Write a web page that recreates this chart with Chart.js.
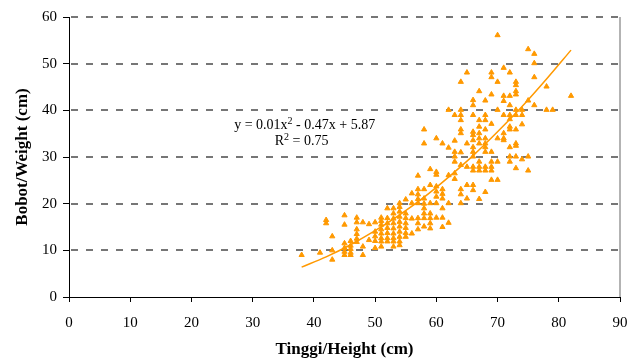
<!DOCTYPE html>
<html>
<head>
<meta charset="utf-8">
<script src="https://cdn.jsdelivr.net/npm/chart.js@4.4.1/dist/chart.umd.min.js"></script>
<style>
html,body{margin:0;padding:0;background:#ffffff;}
canvas{display:block;}
</style>
</head>
<body>
<canvas id="c" width="631" height="360"></canvas>
<script>
// ---- data ----
const heights = [38,41,42,43,45,46,47,48,49,50,51,52,53,54,55,56,57,58,59,60,61,62,63,64,65,66,67,68,69,70,71,72,73,74,75,76,78,79,82];
const weightsByHeight = [
  [9],
  [9.5],
  [16.5,15.8],
  [13,10,8],
  [17.5,15.5,11.5,10.5,9.7,9],
  [12,11,10.3,9.5,9],
  [17,16,14.5,13.5,12.5,11.8],
  [16,10.8,9],
  [15.6,12.2],
  [16,14,13,12,10.5],
  [17,16.3,15.5,14.5,13.6,12.6,11.9,10.8],
  [19,16.9,15.8,14.8,13.7,12.6,11.9],
  [19,17.9,16.8,15.8,14.7,13.6,12.6,11.9,10.8],
  [20.1,19.3,18.3,17.2,16.1,15.1,14,12.9,11.9,11.1],
  [20.9,17.9,16.9,15.8,14.8,13.7,12.9],
  [22.2,20.1,16.8,13.6],
  [26,23.1,22,21,20.1,16.9,15.8,14.5],
  [35.9,32.9,23.1,21.1,20,19,17.9,16.9,15.1],
  [27.4,24,20.1,17.9,16.9,15.8,14.7],
  [34,26.8,26.2,23.7,22.6,21.5,20.1,17],
  [32.9,23.1,22.1,21.1,19,17,15],
  [40.1,32,26.1,20.1,15.9],
  [39,33.5,31.1,30.1,29,26.5,25.3],
  [46.1,40.1,39,37.9,35.9,35.1,31,28.3,23.1,22,20.1],
  [48.1,32.9,27.9,24,21.1],
  [42.2,41.1,39,35.4,34.7,33.6,32.1,31.1,30.1,27.9,27.1,24,22.9],
  [44.1,37.9,36.5,35.1,34,32.9,29,27.9,27.1,21],
  [42.1,39,37.9,35.9,34,32.9,32.1,31.1,27.9,27.1,22.5],
  [48.1,47.1,43.4,37.1,31.1,29,27.9,27.1,25.1],
  [56.1,46.1,40.1,34,29,25.1],
  [49.1,43.1,42,39,35.1,34,33.6],
  [48.1,43.1,41.1,39,38.1,36.5,35.9,32.1,30.1,29],
  [46.1,45.4,44.1,43.4,40.1,39,35.9,32.9,32.4,30.1,27.6],
  [40.1,39,37,29.5],
  [53.1,42.1,30.1,27.1],
  [52.1,50.1,47.1,41.1],
  [45.1,40.1],
  [40.1],
  [43.1]
];
// trend line
const trendHeights = [38,42,46,50,54,58,62,66,70,74,78,82];
const trendWeights = [6.4,8.6,11.2,14.2,17.6,21.4,25.7,30.3,35.4,40.8,46.7,52.9];

const xTicks = [0,10,20,30,40,50,60,70,80,90];
const yTicks = [0,10,20,30,40,50,60];
const xTitle = 'Tinggi/Height (cm)';
const yTitle = 'Bobot/Weight (cm)';
const eqParts = [['y = 0.01x',false],['2',true],[' - 0.47x + 5.87',false]];
const r2Parts = [['R',false],['2',true],[' = 0.75',false]];
const eqAnchor = {x: 38.5, y: 36.1};
const r2Anchor = {x: 38.0, y: 32.5};

// ---- build datasets ----
const scatterPts = [];
heights.forEach((h, i) => weightsByHeight[i].forEach(w => scatterPts.push({x: h, y: w})));
const trendPts = trendHeights.map((h, i) => ({x: h, y: trendWeights[i]}));

const ORANGE = '#FF9900';
const SERIF = '"Liberation Serif", "Times New Roman", serif';

const gridPlugin = {
  id: 'dashedGrid',
  beforeDatasetsDraw(chart) {
    const {ctx, chartArea: a, scales: {y}} = chart;
    ctx.save();
    ctx.strokeStyle = '#4a4a4a';
    ctx.lineWidth = 1.6;
    ctx.setLineDash([7, 8]);
    yTicks.forEach(v => {
      if (v === 0) return;
      const py = Math.round(y.getPixelForValue(v));
      ctx.beginPath();
      ctx.moveTo(a.left + 2, py);
      ctx.lineTo(a.right, py);
      ctx.stroke();
    });
    ctx.setLineDash([]);
    ctx.strokeStyle = '#9a9a9a';
    ctx.lineWidth = 1.5;
    ctx.beginPath();
    ctx.moveTo(a.right, a.top);
    ctx.lineTo(a.right, a.bottom);
    ctx.stroke();
    ctx.restore();
  }
};

function drawParts(ctx, parts, cx, cy) {
  const base = '14px ' + SERIF;
  const sup = '10px ' + SERIF;
  let total = 0;
  parts.forEach(([t, s]) => { ctx.font = s ? sup : base; total += ctx.measureText(t).width; });
  let x = cx - total / 2;
  ctx.textBaseline = 'alphabetic';
  ctx.textAlign = 'left';
  parts.forEach(([t, s]) => {
    ctx.font = s ? sup : base;
    ctx.fillText(t, x, s ? cy - 5 : cy);
    x += ctx.measureText(t).width;
  });
}

const eqPlugin = {
  id: 'equation',
  afterDatasetsDraw(chart) {
    const {ctx, scales: {x, y}} = chart;
    ctx.save();
    ctx.fillStyle = '#000000';
    drawParts(ctx, eqParts, x.getPixelForValue(eqAnchor.x), y.getPixelForValue(eqAnchor.y));
    drawParts(ctx, r2Parts, x.getPixelForValue(r2Anchor.x), y.getPixelForValue(r2Anchor.y));
    ctx.restore();
  }
};

new Chart(document.getElementById('c'), {
  type: 'scatter',
  data: {
    datasets: [
      {
        type: 'line',
        data: trendPts,
        borderColor: ORANGE,
        borderWidth: 1.5,
        pointRadius: 0,
        fill: false,
        cubicInterpolationMode: 'monotone',
        order: 0
      },
      {
        type: 'scatter',
        data: scatterPts,
        pointStyle: 'triangle',
        pointRadius: 3,
        backgroundColor: ORANGE,
        borderColor: ORANGE,
        borderWidth: 1,
        order: 1
      }
    ]
  },
  options: {
    responsive: false,
    animation: false,
    devicePixelRatio: 1,
    layout: {padding: {left: 0, right: 11, top: 17, bottom: 0}},
    plugins: {legend: {display: false}, tooltip: {enabled: false}},
    scales: {
      x: {
        type: 'linear',
        min: 0, max: 90,
        afterBuildTicks(s) { s.ticks = xTicks.map(v => ({value: v})); },
        ticks: {color: '#000', font: {family: SERIF, size: 15}, padding: 12, maxRotation: 0, autoSkip: false},
        grid: {drawOnChartArea: false, drawTicks: true, tickLength: 5, tickColor: '#000', tickWidth: 1},
        border: {display: true, color: '#000', width: 1},
        title: {display: true, text: xTitle, color: '#000', font: {family: SERIF, size: 17, weight: 'bold'}, padding: {top: 0, bottom: 0}},
        afterFit(s) { s.height = 63; s.paddingLeft = 0; s.paddingRight = 0; }
      },
      y: {
        type: 'linear',
        min: 0, max: 60,
        afterBuildTicks(s) { s.ticks = yTicks.map(v => ({value: v})); },
        ticks: {color: '#000', font: {family: SERIF, size: 15}, padding: 6},
        grid: {drawOnChartArea: false, drawTicks: true, tickLength: 6, tickColor: '#000', tickWidth: 1},
        border: {display: true, color: '#000', width: 1},
        title: {display: true, text: yTitle, color: '#000', font: {family: SERIF, size: 17, weight: 'bold'}, padding: {top: 12, bottom: 0}},
        afterFit(s) { s.width = 69; s.paddingTop = 0; s.paddingBottom = 0; }
      }
    }
  },
  plugins: [gridPlugin, eqPlugin]
});
</script>
</body>
</html>
